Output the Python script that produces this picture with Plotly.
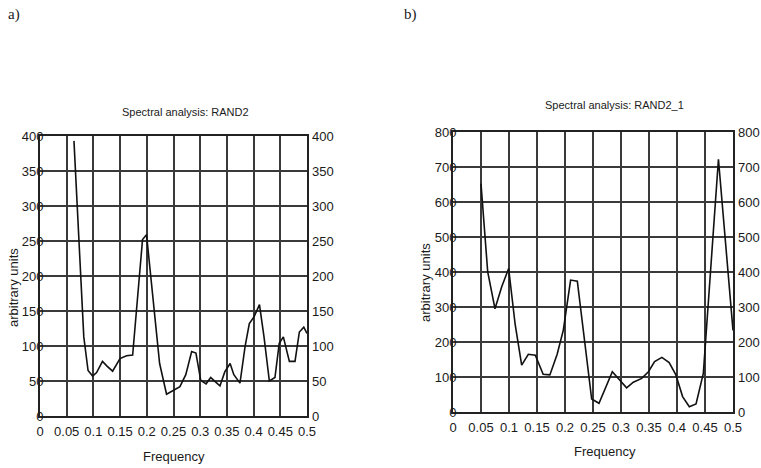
import plotly.graph_objects as go

# ---- data ----
freq_a = [0.0636, 0.082, 0.09, 0.0986, 0.106, 0.117, 0.126, 0.136, 0.1498, 0.162, 0.1735,
          0.192, 0.1995, 0.212, 0.224, 0.237, 0.25, 0.262, 0.273, 0.284, 0.292, 0.301,
          0.311, 0.3197, 0.328, 0.337, 0.346, 0.356, 0.363, 0.3745, 0.384, 0.392, 0.401,
          0.411, 0.4195, 0.4295, 0.44, 0.448, 0.4557, 0.467, 0.4775, 0.4857, 0.494, 0.5]
val_a = [393, 113, 65, 57, 62, 78, 71, 64, 82, 86, 87,
         252, 259, 160, 75, 31, 37, 42, 59, 92, 90, 51,
         46, 55, 49, 43, 63, 75, 59, 47, 99, 132, 142,
         159, 113, 50, 55, 104, 113, 78, 78, 120, 127, 118]

freq_b = [0.05, 0.062, 0.075, 0.087, 0.0994, 0.111, 0.1226, 0.1345, 0.147, 0.161, 0.173,
          0.186, 0.197, 0.21, 0.222, 0.236, 0.2476, 0.2607, 0.2845, 0.31, 0.322, 0.337,
          0.349, 0.36, 0.373, 0.386, 0.398, 0.41, 0.422, 0.434, 0.447, 0.474, 0.5]
val_b = [652, 400, 295, 358, 410, 250, 134, 165, 162, 108, 106,
         165, 234, 377, 374, 180, 37, 25, 115, 69, 85, 96,
         115, 144, 156, 141, 106, 44, 15, 23, 110, 722, 233]

x_ticks = [0, 0.05, 0.1, 0.15, 0.2, 0.25, 0.3, 0.35, 0.4, 0.45, 0.5]
x_ticktext = ["0", "0.05", "0.1", "0.15", "0.2", "0.25", "0.3", "0.35", "0.4", "0.45", "0.5"]
y_ticks_a = [0, 50, 100, 150, 200, 250, 300, 350, 400]
y_ticks_b = [0, 100, 200, 300, 400, 500, 600, 700, 800]

title_a = "Spectral analysis: RAND2"
title_b = "Spectral analysis: RAND2_1"
x_title = "Frequency"
y_title = "arbitrary units"

W, H = 761, 468
FONT = "Liberation Sans, Arial, sans-serif"
TXT = "#1a1a1a"

def px(x):
    return x / W

def py(y):
    return 1 - y / H

fig = go.Figure()
line = dict(color="#111111", width=1.6)
fig.add_trace(go.Scatter(x=freq_a, y=val_a, mode="lines", line=line, xaxis="x", yaxis="y", hoverinfo="skip"))
fig.add_trace(go.Scatter(x=freq_a, y=val_a, mode="lines", line=dict(width=0), xaxis="x", yaxis="y3",
                         hoverinfo="skip", opacity=0))
fig.add_trace(go.Scatter(x=freq_b, y=val_b, mode="lines", line=line, xaxis="x2", yaxis="y2", hoverinfo="skip"))
fig.add_trace(go.Scatter(x=freq_b, y=val_b, mode="lines", line=dict(width=0), xaxis="x2", yaxis="y4",
                         hoverinfo="skip", opacity=0))

tf = dict(family=FONT, size=13, color=TXT)
grid = dict(showgrid=True, gridcolor="#3a3a3a", gridwidth=2, zeroline=False,
            showline=True, linecolor="#222222", linewidth=2, mirror=True, ticks="",
            tickfont=tf, fixedrange=True, automargin=False)
right = dict(showgrid=False, zeroline=False, showline=False, ticks="", tickfont=tf,
             fixedrange=True, automargin=False, side="right")

dom_ax = [px(40), px(307)]
dom_ay = [py(416), py(136)]
dom_bx = [px(453), px(733)]
dom_by = [py(412), py(132)]

fig.update_layout(
    width=W, height=H, margin=dict(l=0, r=0, t=0, b=0, autoexpand=False),
    paper_bgcolor="white", plot_bgcolor="white", showlegend=False,
    xaxis=dict(domain=dom_ax, range=[0, 0.5], tickvals=x_ticks, ticktext=x_ticktext,
               anchor="y", ticklabelstandoff=2, **grid),
    yaxis=dict(domain=dom_ay, range=[0, 400], tickvals=y_ticks_a, anchor="x",
               ticklabelstandoff=-8, **grid),
    yaxis3=dict(range=[0, 400], tickvals=y_ticks_a, overlaying="y", anchor="x",
                ticklabelstandoff=4, **right),
    xaxis2=dict(domain=dom_bx, range=[0, 0.5], tickvals=x_ticks, ticktext=x_ticktext,
                anchor="y2", ticklabelstandoff=2, **grid),
    yaxis2=dict(domain=dom_by, range=[0, 800], tickvals=y_ticks_b, anchor="x2",
                ticklabelstandoff=-8, **grid),
    yaxis4=dict(range=[0, 800], tickvals=y_ticks_b, overlaying="y2", anchor="x2",
                ticklabelstandoff=4, **right),
)

def ann(text, x, y, size=12, angle=0, family=FONT):
    fig.add_annotation(text=text, x=px(x), y=py(y), xref="paper", yref="paper",
                       showarrow=False, textangle=angle, xanchor="center", yanchor="middle",
                       font=dict(family=family, size=size, color=TXT))

ann("a)", 14, 15, size=15, family="Liberation Serif, Times New Roman, serif")
ann("b)", 410, 15, size=15, family="Liberation Serif, Times New Roman, serif")
ann(title_a, 185, 112, size=11)
ann(title_b, 614, 105, size=11)
ann(x_title, 174, 456, size=13)
ann(x_title, 605, 451, size=13)
ann(y_title, 13, 288, size=13, angle=-90)
ann(y_title, 425, 283, size=13, angle=-90)

fig.write_html(
    "out.html",
    config={"displayModeBar": False, "staticPlot": True},
    post_script="document.body.style.margin='0';document.body.style.padding='0';"
                "document.body.style.overflow='hidden';",
)
